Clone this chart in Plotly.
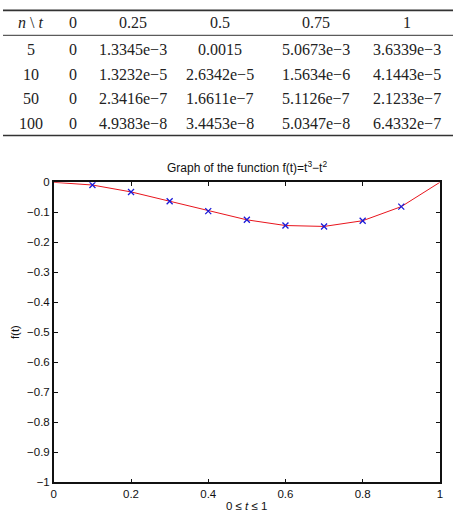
import plotly.graph_objects as go

W, H = 456, 518

# ---- table data ----
col_headers = ["<i>n</i> \\ <i>t</i>", "0", "0.25", "0.5", "0.75", "1"]
row_n = ["5", "10", "50", "100"]
col_t0 = ["0", "0", "0", "0"]
col_t025 = ["1.3345e−3", "1.3232e−5", "2.3416e−7", "4.9383e−8"]
col_t05 = ["0.0015", "2.6342e−5", "1.6611e−7", "3.4453e−8"]
col_t075 = ["5.0673e−3", "1.5634e−6", "5.1126e−7", "5.0347e−8"]
col_t1 = ["3.6339e−3", "4.1443e−5", "2.1233e−7", "6.4332e−7"]

# ---- chart data ----
t_line = [0, 0.1, 0.2, 0.3, 0.4, 0.5, 0.6, 0.7, 0.8, 0.9, 1.0]
f_line = [0, -0.009, -0.032, -0.063, -0.096, -0.125, -0.144, -0.147, -0.128, -0.081, 0]
t_mark = [0.1, 0.2, 0.3, 0.4, 0.5, 0.6, 0.7, 0.8, 0.9]
f_mark = [-0.009, -0.032, -0.063, -0.096, -0.125, -0.144, -0.147, -0.128, -0.081]
x_ticks = [0, 0.2, 0.4, 0.6, 0.8, 1]
y_ticks = [0, -0.1, -0.2, -0.3, -0.4, -0.5, -0.6, -0.7, -0.8, -0.9, -1]

fig = go.Figure()
fig.add_trace(go.Scatter(x=t_line, y=f_line, mode="lines",
                         line=dict(color="#e8141c", width=1), showlegend=False))
fig.add_trace(go.Scatter(x=t_mark, y=f_mark, mode="markers",
                         marker=dict(symbol="x-thin", size=6, line=dict(color="#1a1ad8", width=1.3)),
                         showlegend=False))

x0, x1 = 51.5, 442.7
ytop, ybot = 180.5, 487.7
axis_font = dict(family="Liberation Sans, Arial", size=11.5, color="#111")
fig.update_layout(
    width=W, height=H, margin=dict(l=0, r=0, t=0, b=0),
    paper_bgcolor="white", plot_bgcolor="white",
    xaxis=dict(domain=[x0 / W, x1 / W], range=[0, 1], tickvals=x_ticks,
               ticktext=[str(v) for v in x_ticks],
               ticks="inside", ticklen=4, tickcolor="#111", mirror="allticks",
               showline=True, linecolor="#111", linewidth=1.5, showgrid=False,
               zeroline=False, tickfont=axis_font),
    yaxis=dict(domain=[(H - ybot) / H, (H - ytop) / H], range=[-1, 0], tickvals=y_ticks,
               ticks="inside", ticklen=4, tickcolor="#111", mirror="allticks",
               showline=True, linecolor="#111", linewidth=1.5, showgrid=False,
               zeroline=False, tickfont=axis_font),
    font=axis_font,
)

def px(x, y):
    return x / W, 1 - y / H

ann = []
# chart titles
for text, x, y, rot, sz in [
    ("Graph of the function f(t)=t<sup>3</sup>−t<sup>2</sup>", (x0 + x1) / 2, 165, 0, 12),
    ("0 ≤ <i>t</i> ≤ 1", (x0 + x1) / 2, 512, 0, 11.5),
    ("f(t)", 12, 334, -90, 11.5),
]:
    ax, ay = px(x, y)
    ann.append(dict(text=text, x=ax, y=ay, xref="paper", yref="paper", showarrow=False,
                    xanchor="center", yanchor="middle", textangle=rot,
                    font=dict(family="Liberation Sans, Arial", size=sz, color="#111")))

# table
col_x = [28, 71, 132, 220, 317, 409]
row_y = [45, 70, 95, 120]
tfont = dict(family="Liberation Serif, Times New Roman", size=16, color="#222")
for cx, h in zip(col_x, col_headers):
    ax, ay = px(cx, 17)
    ann.append(dict(text=h, x=ax, y=ay, xref="paper", yref="paper", showarrow=False,
                    xanchor="center", yanchor="middle", font=tfont))
cols = [row_n, col_t0, col_t025, col_t05, col_t075, col_t1]
for cx, col in zip(col_x, cols):
    for ry, v in zip(row_y, col):
        ax, ay = px(cx, ry)
        ann.append(dict(text=v, x=ax, y=ay, xref="paper", yref="paper", showarrow=False,
                        xanchor="center", yanchor="middle", font=tfont))
fig.update_layout(annotations=ann)

for ly, lw in [(4.5, 1.6), (30, 1.0), (132.5, 1.6)]:
    _, yy = px(0, ly)
    fig.add_shape(type="line", xref="paper", yref="paper", x0=0, x1=1, y0=yy, y1=yy,
                  line=dict(color="#333", width=lw))

fig.write_html("out.html")
